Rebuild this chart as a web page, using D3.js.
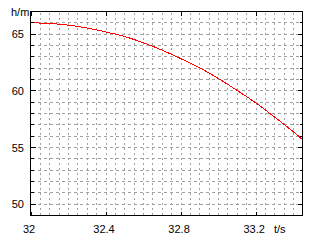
<!DOCTYPE html>
<html>
<head>
<meta charset="utf-8">
<script src="https://cdn.jsdelivr.net/npm/d3@7"></script>
<style>
  body { margin: 0; background: #fff; }
  svg { display: block; }
  text { font-family: "Liberation Sans", Arial, sans-serif; font-size: 11px; fill: #000; }
</style>
</head>
<body>
<svg id="chart" width="320" height="240"></svg>
<script>
// values: time (s) vs height (m)
const times   = [32.0, 32.1, 32.2, 32.3, 32.4, 32.5, 32.6, 32.7, 32.8, 32.9, 33.0, 33.1, 33.2, 33.3, 33.4, 33.45]
const heights = [66.0, 65.95, 65.8, 65.55, 65.2, 64.8, 64.25, 63.6, 62.85, 62.05, 61.1, 60.05, 58.95, 57.7, 56.4, 55.7]
const xTickLabels = [32, 32.4, 32.8, 33.2]
const yTickLabels = [50, 55, 60, 65]
const xDomain = [32, 33.45]
const yDomain = [49, 67]

const svg = d3.select('#chart')
const pLeft = 30.5, pRight = 302.5, pTop = 11.5, pBottom = 215.5

const x = d3.scaleLinear().domain(xDomain).range([pLeft, pRight])
const y = d3.scaleLinear().domain(yDomain).range([pBottom, pTop])

// grid
const xGrid = d3.range(1, 29).map(i => xDomain[0] + i * 0.05)
const yGrid = d3.range(yDomain[0] + 1, yDomain[1])

svg.append('g').selectAll('line').data(xGrid).join('line')
  .attr('x1', d => Math.round(x(d)) + 0.5).attr('x2', d => Math.round(x(d)) + 0.5)
  .attr('y1', pTop + 1).attr('y2', pBottom)
  .attr('stroke', '#a0a0a0').attr('stroke-dasharray', '2,3')
  .attr('shape-rendering', 'crispEdges')

svg.append('g').selectAll('line').data(yGrid).join('line')
  .attr('y1', d => Math.round(y(d) - 0.5) + 0.5).attr('y2', d => Math.round(y(d) - 0.5) + 0.5)
  .attr('x1', pLeft + 1).attr('x2', pRight)
  .attr('stroke', '#a0a0a0').attr('stroke-dasharray', '3,3')
  .attr('shape-rendering', 'crispEdges')

// the curve
const line = d3.line().x((d, i) => x(times[i])).y(d => y(d)).curve(d3.curveMonotoneX)
svg.append('path').datum(heights)
  .attr('d', line)
  .attr('fill', 'none').attr('stroke', '#f00').attr('stroke-width', 1)
  .attr('shape-rendering', 'crispEdges')

// ticks inside the frame
const ticks = svg.append('g').attr('stroke', '#000').attr('shape-rendering', 'crispEdges')
yGrid.concat(yTickLabels).forEach(v => {
  const yy = Math.round(y(v) - 0.5) + 0.5
  const len = v % 5 === 0 ? 5 : 3
  ticks.append('line').attr('x1', pLeft).attr('x2', pLeft + len).attr('y1', yy).attr('y2', yy)
  ticks.append('line').attr('x1', pRight).attr('x2', pRight - len).attr('y1', yy).attr('y2', yy)
})
xTickLabels.forEach(v => {
  const xx = Math.round(x(v)) + 0.5
  ticks.append('line').attr('x1', xx).attr('x2', xx).attr('y1', pBottom).attr('y2', pBottom - 4)
  ticks.append('line').attr('x1', xx).attr('x2', xx).attr('y1', pTop).attr('y2', pTop + 4)
})

// frame
svg.append('rect')
  .attr('x', pLeft).attr('y', pTop).attr('width', pRight - pLeft).attr('height', pBottom - pTop)
  .attr('fill', 'none').attr('stroke', '#000').attr('shape-rendering', 'crispEdges')

// labels
svg.append('g').selectAll('text').data(yTickLabels).join('text')
  .attr('x', 24).attr('y', d => y(d) + 4)
  .attr('text-anchor', 'end').text(d => d)

svg.append('g').selectAll('text').data(xTickLabels).join('text')
  .attr('x', d => x(d) - 1.5).attr('y', 233)
  .attr('text-anchor', 'middle').text(d => d)

svg.append('text').attr('x', 11).attr('y', 16).text('h/m')
svg.append('text').attr('x', 274).attr('y', 233).text('t/s')
</script>
</body>
</html>
